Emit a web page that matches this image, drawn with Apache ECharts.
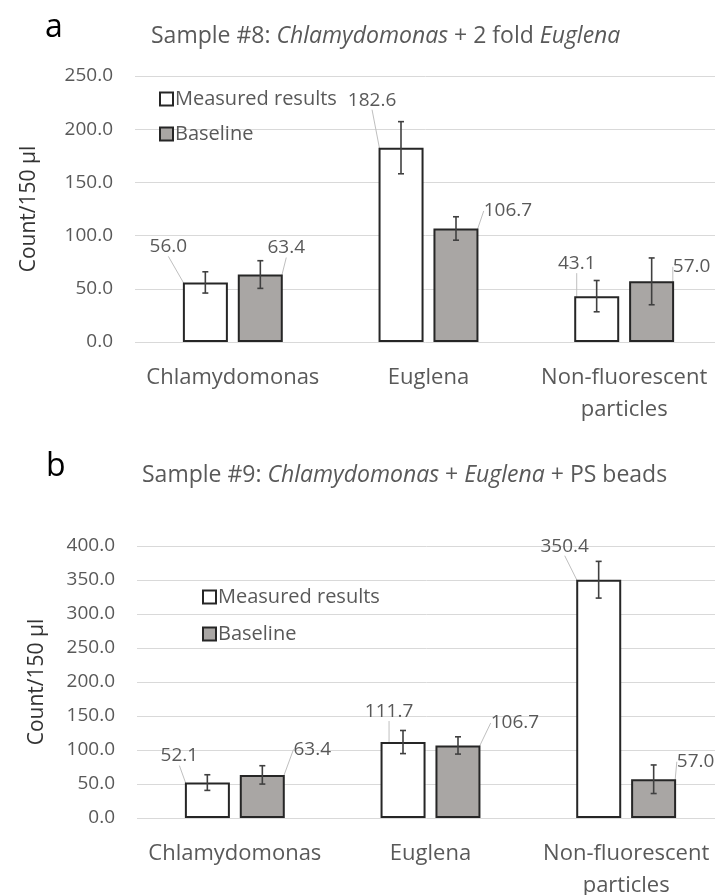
<!DOCTYPE html>
<html>
<head>
<meta charset="utf-8">
<script src="https://cdn.jsdelivr.net/npm/echarts@6/dist/echarts.min.js"></script>
<style>html,body{margin:0;padding:0;background:#fff;}#c{width:715px;height:895px;}</style>
</head>
<body>
<div id="c"></div>
<script>
// ---- data ----
const categories = ['Chlamydomonas', 'Euglena', 'Non-fluorescent\nparticles'];
const seriesNames = ['Measured results', 'Baseline'];
// Panel a: Sample #8
const measuredA = [56.0, 182.6, 43.1];
const measuredErrA = [10, 24.5, 14.7];
const baselineA = [63.4, 106.7, 57.0];
const baselineErrA = [13, 11, 22];
// Panel b: Sample #9
const measuredB = [52.1, 111.7, 350.4];
const measuredErrB = [11.5, 17, 27];
const baselineB = [63.4, 106.7, 57.0];
const baselineErrB = [13.5, 12.7, 21];
// axis ticks
const yMaxA = 250, yStepA = 50;
const yMaxB = 400, yStepB = 50;

// ---- styling ----
const FONT = 'Open Sans';
const GREY = '#595959';
const BAR_W = 45;
const HALF_OFF = 27.5;
const measuredStyle = { color: '#ffffff', borderColor: '#262626', borderWidth: 2 };
const baselineStyle = { color: '#a9a6a4', borderColor: '#262626', borderWidth: 2 };

// label offsets (dx, dy) per panel/series/category
const labelOffsets = {
  a: { m: [[-37, -26], [-29, -38], [-20, -23]], b: [[26, -17], [52, -8], [40, -5]] },
  b: { m: [[-28, -17], [-14, -21], [-34, -24]], b: [[50, -16], [57, -13], [42, -8]] }
};

const chart = echarts.init(document.getElementById('c'), null, { renderer: 'canvas' });

function errSeries(name, vals, errs, axis, sign) {
  return {
    type: 'custom', name: name + ' error', xAxisIndex: axis, yAxisIndex: axis,
    data: vals.map((v, i) => [i, v, errs[i]]), z: 10, silent: true,
    renderItem: function (params, api) {
      const i = api.value(0), v = api.value(1), e = api.value(2);
      const x = api.coord([i, v])[0] + sign * HALF_OFF;
      const yt = api.coord([i, v + e])[1];
      const yb = api.coord([i, v - e])[1];
      const st = { stroke: '#404040', lineWidth: 1.6 };
      return { type: 'group', children: [
        { type: 'line', shape: { x1: x, y1: yt, x2: x, y2: yb }, style: st },
        { type: 'line', shape: { x1: x - 3, y1: yt, x2: x + 3, y2: yt }, style: st },
        { type: 'line', shape: { x1: x - 3, y1: yb, x2: x + 3, y2: yb }, style: st }
      ] };
    }
  };
}
function barSeries(name, vals, axis, style, offs) {
  return {
    type: 'bar', name: name, xAxisIndex: axis, yAxisIndex: axis, data: vals,
    barWidth: BAR_W, barGap: '22%', itemStyle: style,
    label: { show: true, position: 'top', distance: 0, fontFamily: FONT, fontSize: 19, color: GREY,
      formatter: p => p.value.toFixed(1) },
    labelLine: { show: true, lineStyle: { color: '#bfbfbf', width: 1 } },
    labelLayout: function (p) { const o = offs[p.dataIndex]; return { dx: o[0], dy: o[1] }; },
    emphasis: { disabled: true }
  };
}
function xAxis(grid, margin) {
  return { type: 'category', gridIndex: grid, data: categories,
    axisLine: { show: false }, axisTick: { show: false },
    axisLabel: { fontFamily: FONT, fontSize: 22, color: GREY, margin: margin, lineHeight: 32, interval: 0 } };
}
function yAxis(grid, max, step, gap) {
  return { type: 'value', gridIndex: grid, min: 0, max: max, interval: step,
    axisLine: { show: false }, axisTick: { show: false },
    splitLine: { lineStyle: { color: '#d9d9d9', width: 1 } },
    axisLabel: { fontFamily: FONT, fontSize: 19, color: GREY, margin: 22, formatter: v => v.toFixed(1) },
    name: 'Count/150 µl', nameLocation: 'middle', nameGap: gap,
    nameTextStyle: { fontFamily: FONT, fontSize: 21, color: '#333333' } };
}
function legend(left, top, gap) {
  return { orient: 'vertical', left: left, top: top, data: seriesNames, itemWidth: 13, itemHeight: 13,
    itemGap: gap, icon: 'rect', selectedMode: false,
    textStyle: { fontFamily: FONT, fontSize: 20, color: GREY, padding: [0, 0, 0, -3] } };
}
const titleStyle = { fontFamily: FONT, fontSize: 23, color: GREY, fontWeight: 'normal',
  rich: { i: { fontFamily: FONT, fontSize: 23, color: GREY, fontStyle: 'italic' } } };

const option = {
  animation: false,
  backgroundColor: '#ffffff',
  title: [
    { text: 'a', left: 40, top: 7, textStyle: { fontFamily: FONT, fontSize: 32, color: '#000', fontWeight: 'normal' } },
    { text: 'Sample #8: {i|Chlamydomonas} + 2 fold {i|Euglena}', left: 146, top: 20, textStyle: titleStyle },
    { text: 'b', left: 41, top: 446, textStyle: { fontFamily: FONT, fontSize: 32, color: '#000', fontWeight: 'normal' } },
    { text: 'Sample #9: {i|Chlamydomonas} + {i|Euglena} + PS beads', left: 137, top: 459, textStyle: titleStyle }
  ],
  legend: [legend(154, 84, 15), legend(197, 582, 17)],
  grid: [
    { left: 135, top: 76, width: 587, height: 266, outerBoundsMode: 'none', containLabel: false },
    { left: 137, top: 546, width: 587, height: 272, outerBoundsMode: 'none', containLabel: false }
  ],
  xAxis: [xAxis(0, 20), xAxis(1, 20)],
  yAxis: [yAxis(0, yMaxA, yStepA, 95), yAxis(1, yMaxB, yStepB, 89)],
  series: [
    barSeries(seriesNames[0], measuredA, 0, measuredStyle, labelOffsets.a.m),
    barSeries(seriesNames[1], baselineA, 0, baselineStyle, labelOffsets.a.b),
    errSeries(seriesNames[0], measuredA, measuredErrA, 0, -1),
    errSeries(seriesNames[1], baselineA, baselineErrA, 0, 1),
    barSeries(seriesNames[0], measuredB, 1, measuredStyle, labelOffsets.b.m),
    barSeries(seriesNames[1], baselineB, 1, baselineStyle, labelOffsets.b.b),
    errSeries(seriesNames[0], measuredB, measuredErrB, 1, -1),
    errSeries(seriesNames[1], baselineB, baselineErrB, 1, 1)
  ]
};
chart.setOption(option);
</script>
</body>
</html>
